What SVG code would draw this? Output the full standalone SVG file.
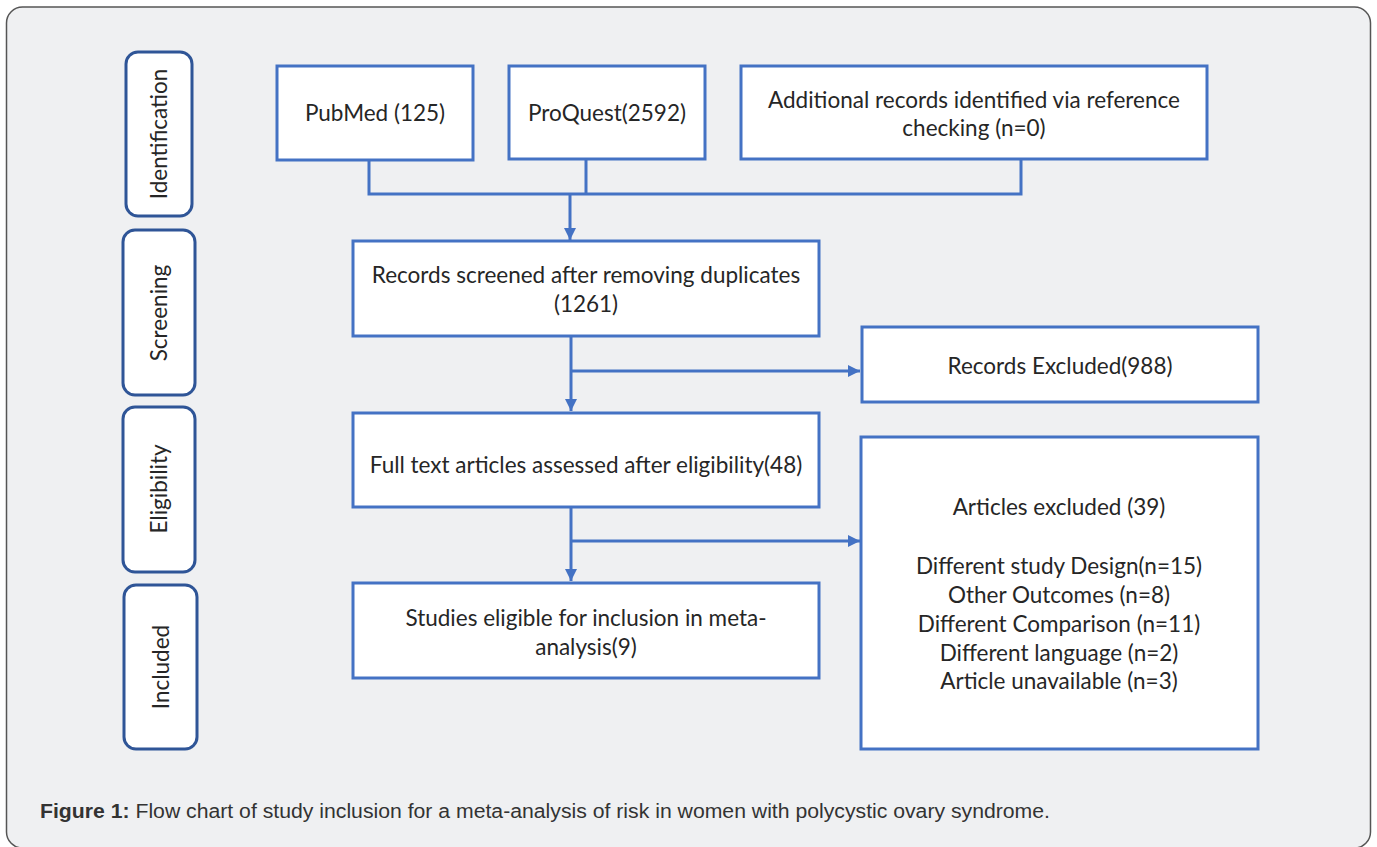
<svg xmlns="http://www.w3.org/2000/svg" width="1377" height="847" viewBox="0 0 1377 847">
<style>
.frame{fill:#eff0f2;stroke:#555;stroke-width:1.5}
.phase{fill:#fff;stroke:#2f5597;stroke-width:3}
.box{fill:#fff;stroke:#4472c4;stroke-width:3}
.t{font-family:Lato,"Liberation Sans",sans-serif;font-size:22.5px;fill:#262626;text-anchor:middle}
.pt{font-family:Lato,"Liberation Sans",sans-serif;font-size:22.5px;fill:#262626;text-anchor:middle}
.con{fill:none;stroke:#4472c4;stroke-width:3}
.cap{font-family:"Liberation Sans",Arial,sans-serif;font-size:20px;fill:#333}
</style>
<defs>
<marker id="ah" viewBox="0 0 10 10" refX="10" refY="5" markerWidth="4" markerHeight="4" orient="auto" markerUnits="strokeWidth">
<path d="M0,0 L10,5 L0,10 z" fill="#4472c4"/>
</marker>
</defs>
<rect class="frame" x="6.5" y="7" width="1364" height="841" rx="16"/>
<g id="phase-identification"><rect class="phase" x="126" y="52" width="66" height="164" rx="12"/><text class="pt" transform="translate(167,134) rotate(-90)">Identification</text></g>
<g id="phase-screening"><rect class="phase" x="123" y="230" width="72" height="165" rx="12"/><text class="pt" transform="translate(167,313) rotate(-90)">Screening</text></g>
<g id="phase-eligibility"><rect class="phase" x="123" y="407" width="72" height="165" rx="12"/><text class="pt" transform="translate(167,489) rotate(-90)">Eligibility</text></g>
<g id="phase-included"><rect class="phase" x="124" y="585" width="73" height="164" rx="12"/><text class="pt" transform="translate(169,667) rotate(-90)">Included</text></g>
<g id="connectors">
<path class="con" d="M369,160 V194 H1021 V159"/>
<path class="con" d="M586,159 V194"/>
<path class="con" d="M570,194 V240" marker-end="url(#ah)"/>
<path class="con" d="M571,335 V411" marker-end="url(#ah)"/>
<path class="con" d="M571,371 H860" marker-end="url(#ah)"/>
<path class="con" d="M571,507 V581" marker-end="url(#ah)"/>
<path class="con" d="M571,541 H860" marker-end="url(#ah)"/>
</g>
<g id="pubmed"><rect class="box" x="277" y="66" width="196" height="94"/><text class="t" x="375" y="121">PubMed (125)</text></g>
<g id="proquest"><rect class="box" x="509" y="66" width="196" height="93"/><text class="t" x="607" y="121">ProQuest(2592)</text></g>
<g id="additional"><rect class="box" x="741" y="66" width="466" height="93"/><text class="t" x="974" y="108">Additional records identified via reference</text><text class="t" x="974" y="136">checking (n=0)</text></g>
<g id="screened"><rect class="box" x="353" y="241" width="466" height="95"/><text class="t" x="586" y="283">Records screened after removing duplicates</text><text class="t" x="586" y="312">(1261)</text></g>
<g id="records-excluded"><rect class="box" x="862" y="327" width="396" height="75"/><text class="t" x="1060" y="374">Records Excluded(988)</text></g>
<g id="fulltext"><rect class="box" x="353" y="413" width="466" height="94"/><text class="t" x="586" y="473">Full text articles assessed after eligibility(48)</text></g>
<g id="articles-excluded"><rect class="box" x="861" y="437" width="397" height="312"/>
<text class="t" x="1059" y="515">Articles excluded (39)</text>
<text class="t" x="1059" y="574">Different study Design(n=15)</text>
<text class="t" x="1059" y="603">Other Outcomes (n=8)</text>
<text class="t" x="1059" y="632">Different Comparison (n=11)</text>
<text class="t" x="1059" y="661">Different language (n=2)</text>
<text class="t" x="1059" y="689">Article unavailable (n=3)</text>
</g>
<g id="included"><rect class="box" x="353" y="583" width="466" height="95"/><text class="t" x="586" y="626">Studies eligible for inclusion in meta-</text><text class="t" x="586" y="655">analysis(9)</text></g>
<text class="cap" x="40" y="818" textLength="1010" lengthAdjust="spacingAndGlyphs"><tspan font-weight="bold">Figure 1:</tspan> Flow chart of study inclusion for a meta-analysis of risk in women with polycystic ovary syndrome.</text>
</svg>
